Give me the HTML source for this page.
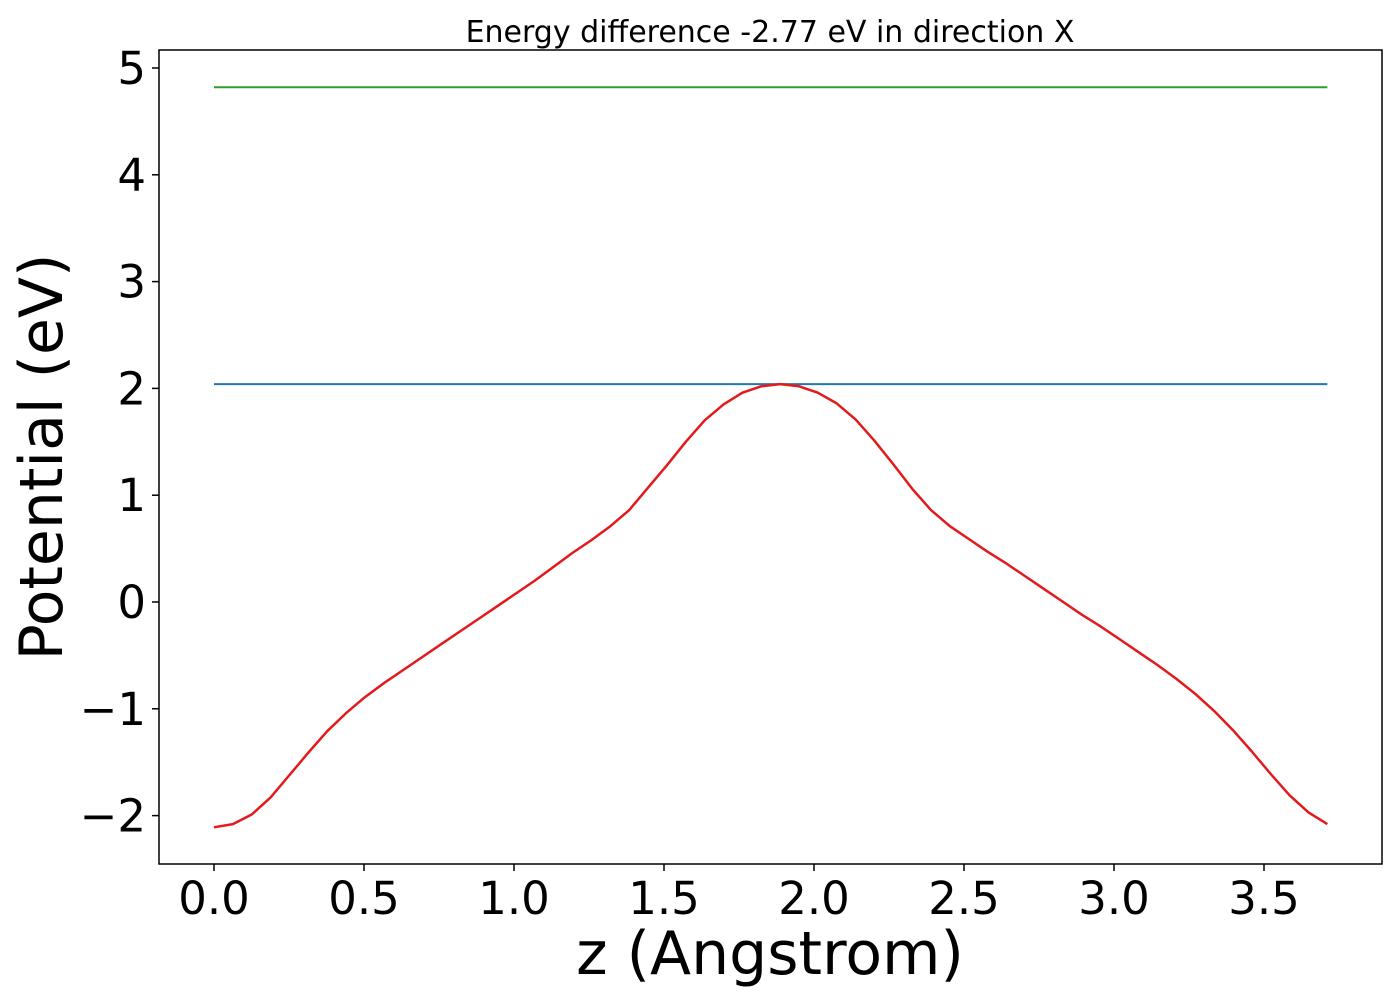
<!DOCTYPE html>
<html><head><meta charset="utf-8"><style>
html,body{margin:0;padding:0;background:#fff;}
svg{display:block;font-family:"DejaVu Sans","Liberation Sans",sans-serif;}
</style></head><body>
<svg id="chart" width="1400" height="1000" viewBox="0 0 1400 1000" xmlns="http://www.w3.org/2000/svg">
<rect x="0" y="0" width="1400" height="1000" fill="#fff"/>
<text x="770" y="42" font-size="30" text-anchor="middle" fill="#000">Energy difference -2.77 eV in direction X</text>
<g id="plot"></g>
<rect x="159" y="50" width="1223" height="814" fill="none" stroke="#000" stroke-width="1.5"/>
<text x="770" y="974" font-size="60" text-anchor="middle" fill="#000">z (Angstrom)</text>
<text transform="translate(62,457) rotate(-90)" font-size="60" text-anchor="middle" fill="#000">Potential (eV)</text>
</svg>
<script>
const zValues = [];
for (let i = 0; i < 60; i++) zValues.push(+(i * 0.0629).toFixed(4));
const potential = [-2.11,-2.08,-1.99,-1.83,-1.62,-1.41,-1.21,-1.04,-0.89,-0.76,
 -0.64,-0.52,-0.40,-0.28,-0.16,-0.04,0.08,0.20,0.33,0.46,
 0.58,0.71,0.86,1.07,1.28,1.50,1.70,1.85,1.96,2.02,
 2.04,2.02,1.96,1.86,1.71,1.51,1.29,1.06,0.86,0.71,
 0.59,0.47,0.36,0.24,0.12,0.00,-0.12,-0.23,-0.35,-0.47,
 -0.59,-0.72,-0.86,-1.02,-1.20,-1.40,-1.61,-1.81,-1.97,-2.08];
const blueLevel = 2.04;
const greenLevel = 4.82;
const xTicks = [0.0,0.5,1.0,1.5,2.0,2.5,3.0,3.5];
const xTickLabels = ["0.0","0.5","1.0","1.5","2.0","2.5","3.0","3.5"];
const yTicks = [-2,-1,0,1,2,3,4,5];
const yTickLabels = ["\u22122","\u22121","0","1","2","3","4","5"];

const X = v => 214 + v * 300;
const Y = v => 602 - v * 106.8;
const NS = "http://www.w3.org/2000/svg";
const g = document.getElementById('plot');
function mk(tag, attrs){const e=document.createElementNS(NS,tag);for(const k in attrs)e.setAttribute(k,attrs[k]);return e;}

xTicks.forEach((t,i)=>{
  const l = mk('line',{x1:X(t),x2:X(t),y1:864,y2:871,stroke:'#000','stroke-width':1.5});
  
  
  g.appendChild(l);
  const tx = mk('text',{x:X(t),y:914,'font-size':45,'text-anchor':'middle',fill:'#000'});
  
  
  tx.textContent = xTickLabels[i];
  g.appendChild(tx);
});
yTicks.forEach((t,i)=>{
  const l = mk('line',{x1:152,x2:159,y1:Y(t),y2:Y(t),stroke:'#000','stroke-width':1.5});
  
  
  g.appendChild(l);
  const tx = mk('text',{x:146,y:Y(t)+16,'font-size':45,'text-anchor':'end',fill:'#000'});
  
  
  tx.textContent = yTickLabels[i];
  g.appendChild(tx);
});
const x0 = zValues[0], x1 = zValues[zValues.length-1];
const gl = mk('line',{x1:X(x0),x2:X(x1),y1:Y(greenLevel),y2:Y(greenLevel),stroke:'#2ca02c','stroke-width':2});


g.appendChild(gl);
const bl = mk('line',{x1:X(x0),x2:X(x1),y1:Y(blueLevel),y2:Y(blueLevel),stroke:'#1f77b4','stroke-width':2});


g.appendChild(bl);
const pts = zValues.map((z,i)=>X(z).toFixed(1)+','+Y(potential[i]).toFixed(1)).join(' ');
const pl = mk('polyline',{points:pts,fill:'none',stroke:'#e31a1c','stroke-width':2.5,'stroke-linejoin':'round'});


g.appendChild(pl);
</script>
</body></html>
